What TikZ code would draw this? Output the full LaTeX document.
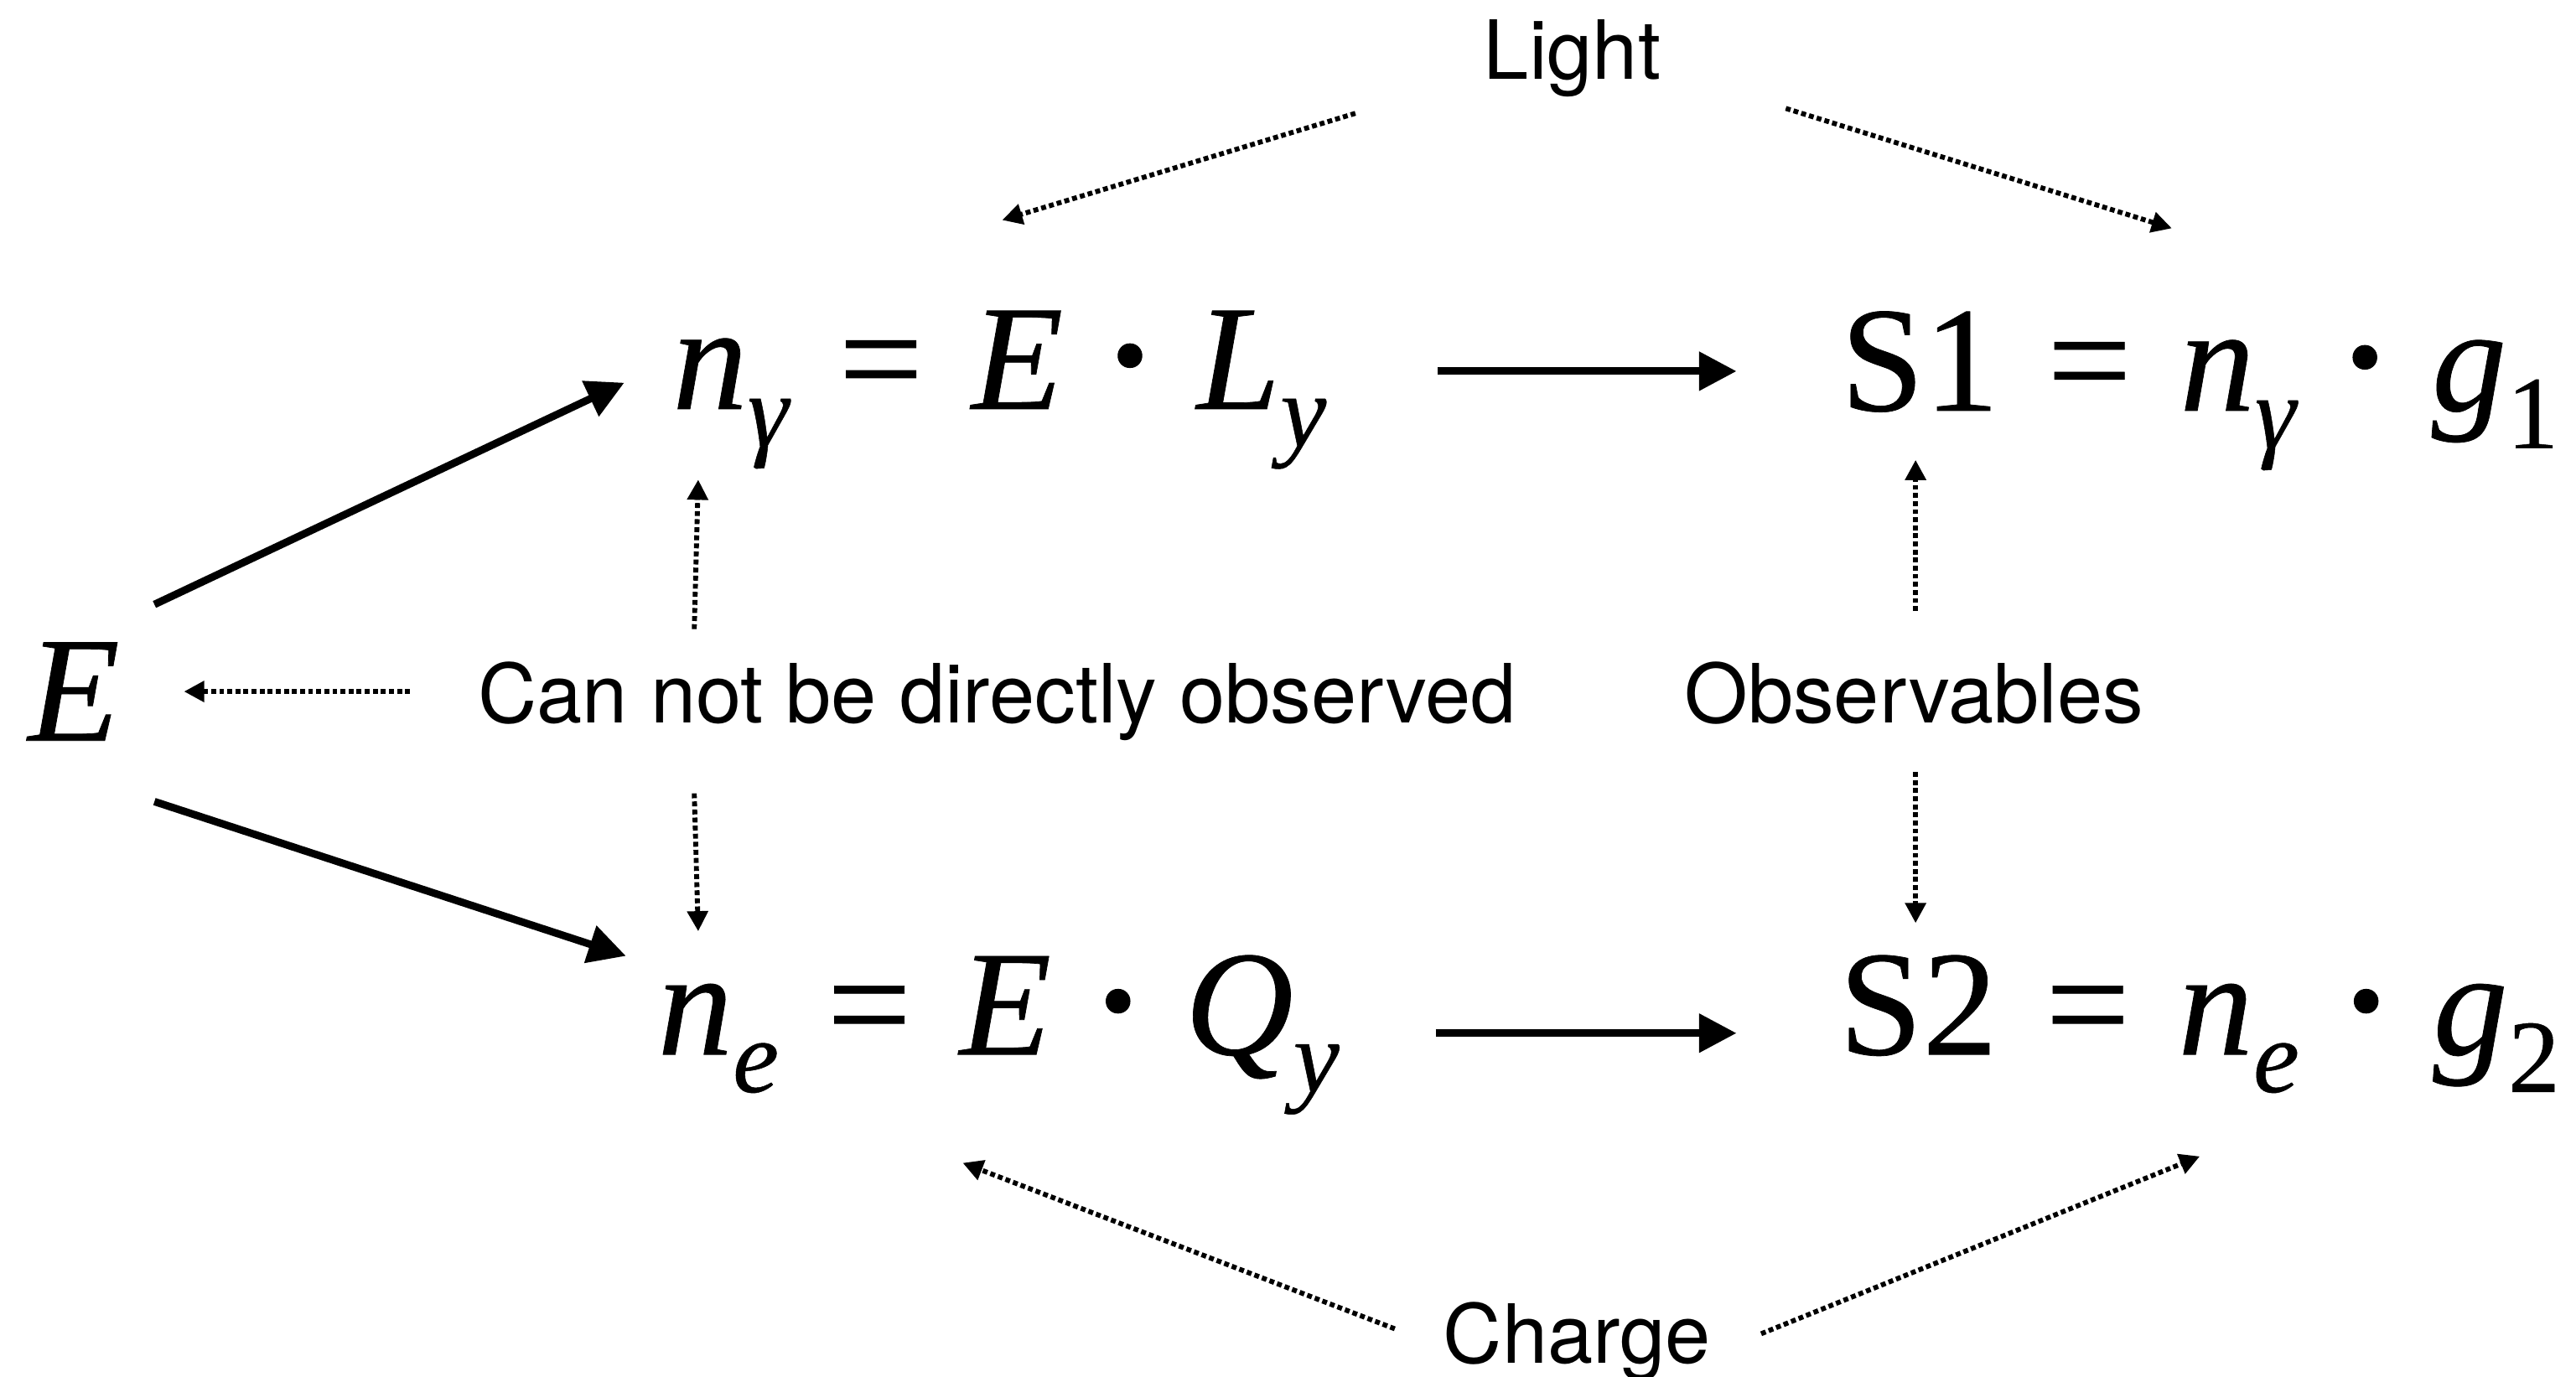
\documentclass[tikz,border=0pt]{standalone}
\usepackage{fontspec}
\setmainfont{Liberation Serif}[UprightFeatures={FakeBold=0.4},ItalicFeatures={FakeBold=0.4}]
\newfontfamily\labelfont{TeX Gyre Heros}
\usetikzlibrary{arrows.meta}
\newcommand{\vr}[1]{\textit{#1}}
\newcommand{\lo}[1]{\raisebox{-13pt}{\fontsize{36}{36}\selectfont #1}}
\newcommand{\op}[1]{\hspace{.32em}#1\hspace{.32em}}
\newcommand{\md}{\makebox[.25em]{\raisebox{-4.7pt}{\fontsize{70}{70}\selectfont ·}}}

\begin{document}
\begin{tikzpicture}[x=0.02cm,y=-0.02cm,>=Triangle]
\tikzset{eqn/.style={inner sep=0pt,font=\fontsize{52}{56}\selectfont},lbl/.style={inner sep=0pt,font=\labelfont\fontsize{28.3}{32}\selectfont},bigarr/.style={-{Triangle[length=13pt,width=13pt]},line width=2.6pt},dotarr/.style={-{Triangle[length=7pt,width=7pt]},line width=1.7pt,dash pattern=on 1.7pt off 1.1pt}}
\useasboundingbox (0,0) rectangle (1568,838);
% quantities
\node[eqn] (E) at (45,421) {\vr{E}};
\node[eqn,anchor=base west] (ng) at (409,249) {\vr{n}\lo{\vr{γ}}\op{=}\vr{E}\op{\md}\vr{L}\lo{\vr{y}}};
\node[eqn,anchor=base west] (ne) at (400,642) {\vr{n}\lo{\vr{e}}\op{=}\vr{E}\op{\md}\vr{Q}\lo{\vr{y}}};
\node[eqn,anchor=base west] (s1) at (1120,250) {S1\op{=}\vr{n}\lo{\vr{γ}}\op{\md}\vr{g}\lo{1}};
\node[eqn,anchor=base west] (s2) at (1119,642) {S2\op{=}\vr{n}\lo{\vr{e}}\op{\md}\vr{g}\lo{2}};
% labels
\node[lbl,anchor=base] (lt) at (957,48) {Light};
\node[lbl,anchor=base] (cn) at (607,440) {Can not be directly observed};
\node[lbl,anchor=base] (ob) at (1165,440) {Observables};
\node[lbl,anchor=base] (ch) at (960,830) {Charge};
% solid arrows
\draw[bigarr] ([shift={(49,-53)}]E.center) -- ([shift={(-29,-16)}]ng.base west);
\draw[bigarr] ([shift={(49,67)}]E.center) -- ([shift={(-19,-60)}]ne.base west);
\draw[bigarr] ([shift={(466,-23)}]ng.base west) -- ([shift={(-63,-24)}]s1.base west);
\draw[bigarr] ([shift={(474,-13)}]ne.base west) -- ([shift={(-62,-13)}]s2.base west);
% dotted arrows
\draw[dotarr] ([shift={(-41,-19)}]cn.base west) -- ([shift={(67,0)}]E.center);
\draw[dotarr] ([shift={(132,-57)}]cn.base west) -- ([shift={(16,43)}]ng.base west);
\draw[dotarr] ([shift={(132,43)}]cn.base west) -- ([shift={(25,-75)}]ne.base west);
\draw[dotarr] ([shift={(1,-68)}]ob.base) -- ([shift={(46,30)}]s1.base west);
\draw[dotarr] ([shift={(1,30)}]ob.base) -- ([shift={(47,-80)}]s2.base west);
\draw[dotarr] ([shift={(-132,21)}]lt.base) -- ([shift={(201,-115)}]ng.base west);
\draw[dotarr] ([shift={(130,18)}]lt.base) -- ([shift={(202,-111)}]s1.base west);
\draw[dotarr] ([shift={(-111,-21)}]ch.base) -- ([shift={(186,66)}]ne.base west);
\draw[dotarr] ([shift={(112,-18)}]ch.base) -- ([shift={(220,62)}]s2.base west);
\end{tikzpicture}
\end{document}
